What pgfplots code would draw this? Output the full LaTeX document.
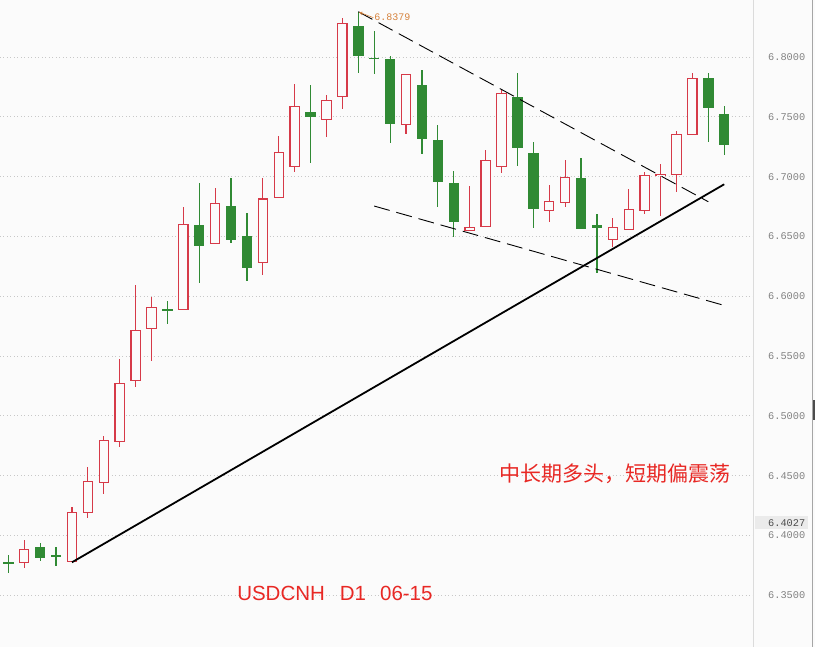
\documentclass[border=0pt]{standalone}
\usepackage{pgfplots}
\pgfplotsset{compat=1.18}
\usepackage{pgfplotstable}
\usepackage{fontspec}
\setmainfont{Liberation Sans}
\newfontfamily\cjk{Noto Sans CJK SC}
\newfontfamily\mono{Liberation Mono}

\definecolor{bg}{RGB}{251,251,251}
\definecolor{upred}{RGB}{214,58,72}
\definecolor{dngreen}{RGB}{48,138,52}
\definecolor{txtred}{RGB}{232,40,36}
\definecolor{annot}{RGB}{214,130,60}
\definecolor{gridc}{RGB}{200,200,200}
\definecolor{ticktxt}{RGB}{130,130,130}

% daily candles, x = bar index
\pgfplotstableread{
x  o      h      l      c
1  6.3772 6.3962 6.3731 6.3884
4  6.3781 6.4241 6.3775 6.4194
5  6.4194 6.4570 6.4144 6.4453
6  6.4444 6.4831 6.4344 6.4795
7  6.4787 6.5475 6.4737 6.5272
8  6.5297 6.6094 6.5244 6.5715
9  6.5732 6.5993 6.5461 6.5907
11 6.5891 6.6743 6.5885 6.6601
13 6.6443 6.6902 6.6434 6.6777
16 6.6284 6.6986 6.6180 6.6815
17 6.6827 6.7340 6.6827 6.7203
18 6.7086 6.7774 6.7041 6.7588
20 6.7479 6.7680 6.7329 6.7638
21 6.7671 6.8324 6.7565 6.8282
25 6.7437 6.7855 6.7354 6.7855
29 6.6548 6.6919 6.6548 6.6576
30 6.6585 6.7228 6.6585 6.7136
31 6.7086 6.7730 6.7033 6.7696
34 6.6718 6.6927 6.6618 6.6794
35 6.6785 6.7136 6.6743 6.6994
38 6.6476 6.6651 6.6409 6.6576
39 6.6559 6.6896 6.6559 6.6727
40 6.6718 6.7036 6.6685 6.7011
41 6.7008 6.7103 6.6676 6.7019
42 6.7019 6.7379 6.6869 6.7354
43 6.7354 6.7864 6.7354 6.7822
}\upbars

\pgfplotstableread{
x  o      h      l      c
0  6.3772 6.3837 6.3686 6.3772
2  6.3904 6.3934 6.3789 6.3814
3  6.3826 6.3904 6.3747 6.3826
10 6.5885 6.5960 6.5770 6.5885
12 6.6593 6.6947 6.6113 6.6422
14 6.6752 6.6986 6.6448 6.6473
15 6.6501 6.6698 6.6130 6.6234
19 6.7538 6.7766 6.7111 6.7496
22 6.8257 6.8379 6.7864 6.8006
23 6.7989 6.8215 6.7855 6.7989
24 6.7983 6.8011 6.7278 6.7437
26 6.7763 6.7889 6.7186 6.7312
27 6.7304 6.7429 6.6743 6.6952
28 6.6944 6.7044 6.6492 6.6618
32 6.7663 6.7864 6.7086 6.7237
33 6.7195 6.7287 6.6568 6.6732
36 6.6986 6.7153 6.6559 6.6559
37 6.6601 6.6685 6.6191 6.6568
44 6.7822 6.7864 6.7295 6.7571
45 6.7529 6.7588 6.7178 6.7270
}\downbars

\begin{document}
\begin{tikzpicture}
\path[use as bounding box, fill=bg] (0,0) rectangle (815pt,647pt);
\begin{axis}[
    at={(0,0)}, anchor=south west,
    scale only axis, width=753.5pt, height=647pt,
    xmin=-0.522, xmax=46.84,
    ymin=6.3067, ymax=6.8477,
    axis line style={draw=none},
    xtick=\empty,
    ytick={6.35,6.40,6.45,6.50,6.55,6.60,6.65,6.70,6.75,6.80},
    yticklabel pos=right,
    major tick length=0pt,
    yticklabel style={font=\mono\fontsize{10.3}{12}\selectfont, text=ticktxt,
        anchor=west, inner sep=0pt, xshift=14.5pt,
        /pgf/number format/.cd, fixed, fixed zerofill, precision=4, assume math mode=true},
    ymajorgrids=true,
    grid style={gridc, line width=0.8pt, dash pattern=on 1pt off 2.5pt},
]

% red (up) candles: wick, outline, hollow inside
\addplot[draw=none, mark=none, forget plot, error bars/.cd, y dir=both, y explicit, error mark=none,
    error bar style={draw=upred, line width=1.2pt}]
    table[x=x, y expr={(\thisrow{h}+\thisrow{l})/2}, y error expr={(\thisrow{h}-\thisrow{l})/2}] {\upbars};
\addplot[draw=none, mark=none, forget plot, error bars/.cd, y dir=both, y explicit, error mark=none,
    error bar style={draw=upred, line width=10.5pt}]
    table[x=x, y expr={(\thisrow{o}+\thisrow{c})/2}, y error expr={(\thisrow{c}-\thisrow{o})/2+0.0005}] {\upbars};
\addplot[draw=none, mark=none, forget plot, error bars/.cd, y dir=both, y explicit, error mark=none,
    error bar style={draw=bg, line width=8.1pt}]
    table[x=x, y expr={(\thisrow{o}+\thisrow{c})/2}, y error expr={max((\thisrow{c}-\thisrow{o})/2-0.0005,0)}] {\upbars};

% green (down) candles
\addplot[draw=none, mark=none, forget plot, error bars/.cd, y dir=both, y explicit, error mark=none,
    error bar style={draw=dngreen, line width=1.2pt}]
    table[x=x, y expr={(\thisrow{h}+\thisrow{l})/2}, y error expr={(\thisrow{h}-\thisrow{l})/2}] {\downbars};
\addplot[draw=none, mark=none, forget plot, error bars/.cd, y dir=both, y explicit, error mark=none,
    error bar style={draw=dngreen, line width=10.5pt}]
    table[x=x, y expr={(\thisrow{o}+\thisrow{c})/2}, y error expr={max((\thisrow{o}-\thisrow{c})/2,0.0007)}] {\downbars};

% trend lines
\addplot[black, line width=1.8pt] coordinates {(4,6.3775) (45,6.6936)};
\addplot[black, line width=0.9pt, dash pattern=on 16pt off 7pt] coordinates {(22,6.8379) (44,6.6790)};
\addplot[black, line width=0.9pt, dash pattern=on 16pt off 7pt] coordinates {(23,6.6754) (45.05,6.5921)};

% high marker
\draw[annot, line width=0.6pt, -stealth] (axis cs:22.95,6.8329) -- (axis cs:22.05,6.8375);
\node[text=annot, font=\mono\fontsize{10}{11}\selectfont, anchor=west, inner sep=0pt]
    at (axis cs:23.0,6.8334) {6.8379};

\node[text=txtred, font=\cjk\fontsize{21}{24}\selectfont] at (axis cs:38.13,6.4513) {中长期多头，短期偏震荡};
\node[text=txtred, font=\fontsize{20.5}{24}\selectfont] at (axis cs:20.53,6.3518) {USDCNH\hspace{15pt}D1\hspace{14pt}06-15};
\end{axis}

\draw[black!14, line width=1pt] (753.5pt,0) -- (753.5pt,647pt);
\draw[black!35, line width=1pt] (812pt,0) -- (812pt,647pt);
\fill[black!70] (813pt,227pt) rectangle (815pt,247pt);
\fill[black!8] (755pt,118pt) rectangle (808pt,130.5pt);
\node[anchor=west, inner sep=0pt, font=\mono\fontsize{10.3}{12}\selectfont, text=black!70] at (768pt,124.3pt) {6.4027};
\end{tikzpicture}
\end{document}
